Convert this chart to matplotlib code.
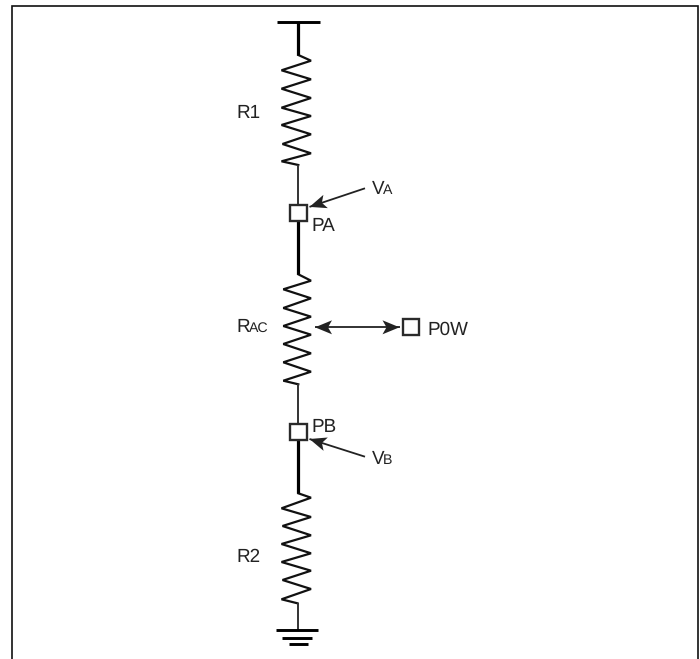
import matplotlib
matplotlib.use("Agg")
import matplotlib.pyplot as plt
import numpy as np
from matplotlib.patches import Rectangle, Polygon

plt.rcParams['font.family'] = ['Liberation Sans', 'DejaVu Sans']
plt.rcParams['text.hinting'] = 'no_hinting'

# Schematic geometry (pixel coordinates)
r1_x = [298.3, 311, 281.5, 311, 281.5, 311, 281.5, 311, 281.5, 311, 282.5, 311, 281.5, 298.3]
r1_y = [55, 60.7, 70.3, 79.3, 88.7, 98, 107.7, 116, 125, 134.3, 144, 153.3, 161.3, 165]
rac_x = [298.3, 311, 283.3, 311, 283.3, 311, 283.3, 311, 283.3, 311, 283.3, 311, 283.3, 298.3]
rac_y = [274.3, 280.7, 289.3, 298.3, 308, 316.7, 326, 334.7, 344, 353.3, 362.3, 371.7, 380.7, 384.3]
r2_x = [298.3, 311, 281.5, 311, 282.5, 311, 281.5, 311, 281.5, 311, 282.5, 311, 281.5, 297.5]
r2_y = [493.3, 497.7, 508.3, 517, 526, 535.3, 544, 553.3, 562, 570.7, 580, 589, 599.3, 603.3]

thick_wires = [((298.3, 298.3), (22, 55)), ((298.3, 298.3), (221, 274.3)), ((298.3, 298.3), (440, 493.3))]
thin_wires = [((298.3, 298.3), (165, 205)), ((298.3, 298.3), (384.3, 423.5)), ((297.5, 297.5), (603.3, 630))]
bars = [((277, 320), 22.3), ((276, 318), 630.3), ((282, 312), 637.5), ((289, 308), 644.3)]
squares = [(290.3, 205), (290.3, 423.7), (402.5, 319)]
square_size = 16.3
arrows = [((365, 188.3), (309.5, 206.9), False), ((315, 327.3), (399.5, 327.3), True), ((365, 456.7), (309.5, 439), False)]
labels = [(236, 118, 'R1', 13.6), (236, 332, 'R', 13.6), (249, 332, 'AC', 10.2),
          (236, 562, 'R2', 13.6), (311, 231, 'PA', 13.6), (311, 432, 'PB', 13.6),
          (427, 335, 'P0W', 13.6), (371.5, 194, 'V', 13.6), (383, 194, 'A', 10.2),
          (371.5, 464.5, 'V', 13.6), (383, 464.5, 'B', 10.2)]
frame_x = [11.5, 11.5, 698, 698]
frame_y = [659, 5.5, 5.5, 659]
head_len, head_half, head_notch = 17, 7, 13


def arrow_head(ax, tip, tail, color):
    tip, tail = np.array(tip, float), np.array(tail, float)
    u = (tail - tip) / np.linalg.norm(tail - tip)
    n = np.array([-u[1], u[0]])
    pts = [tip, tip + u * head_len + n * head_half, tip + u * head_notch, tip + u * head_len - n * head_half]
    ax.add_patch(Polygon(pts, closed=True, fc=color, ec='none', zorder=4))


fig = plt.figure(figsize=(7, 6.59), dpi=100)
ax = fig.add_axes([0, 0, 1, 1])
ax.set_xlim(0, 700)
ax.set_ylim(659, 0)
ax.axis('off')

ink = '#111111'
ax.plot(frame_x, frame_y, color='#111111', lw=1.2, solid_joinstyle='miter')
for xs, ys in zip((r1_x, rac_x, r2_x), (r1_y, rac_y, r2_y)):
    ax.plot(xs, ys, color=ink, lw=1.6, solid_joinstyle='miter')
for xs, ys in thick_wires:
    ax.plot(xs, ys, color='black', lw=2.3, solid_capstyle='butt')
for xs, ys in thin_wires:
    ax.plot(xs, ys, color='#333333', lw=1.4, solid_capstyle='butt')
for xs, y in bars:
    ax.plot(xs, (y, y), color='black', lw=2.1, solid_capstyle='butt')
for x, y in squares:
    ax.add_patch(Rectangle((x, y), square_size, square_size, fc='white', ec='#2a2a2a', lw=1.7, zorder=3))
for tail, head, both in arrows:
    ax.plot((tail[0], head[0]), (tail[1], head[1]), color='#222222', lw=1.3, solid_capstyle='butt')
    arrow_head(ax, head, tail, '#222222')
    if both:
        arrow_head(ax, tail, head, '#222222')
for x, y, s, size in labels:
    ax.text(x, y, s, fontsize=size, color='#222222', ha='left', va='baseline')

fig.savefig('out.png', dpi=100)
